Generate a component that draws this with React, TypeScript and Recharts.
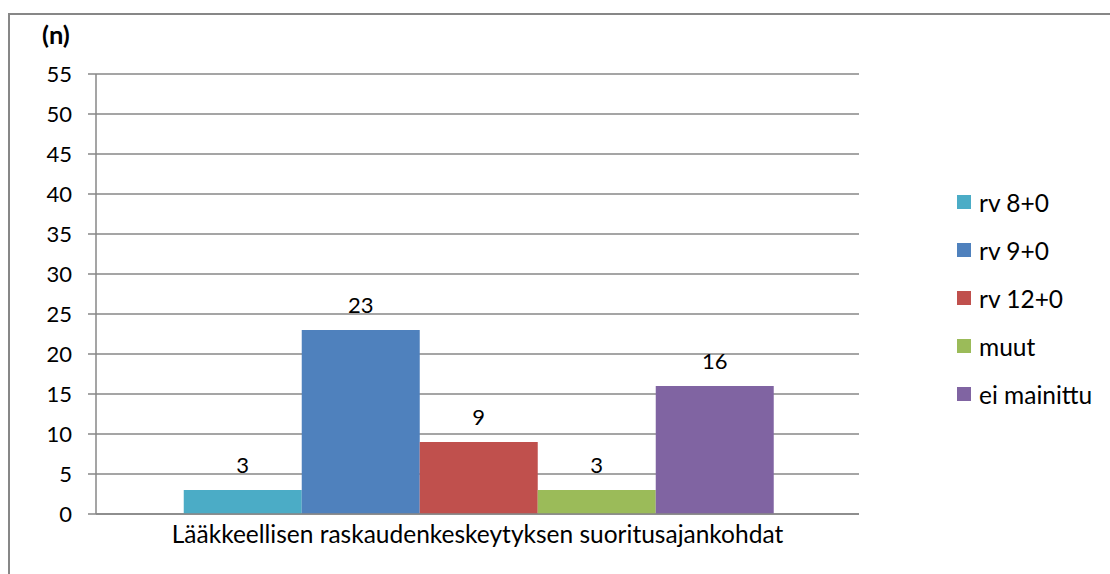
import React from 'react';
import { BarChart, Bar, XAxis, YAxis, CartesianGrid, LabelList } from 'recharts';

const category = ['Lääkkeellisen raskaudenkeskeytyksen suoritusajankohdat'];
const seriesNames = ['rv 8+0', 'rv 9+0', 'rv 12+0', 'muut', 'ei mainittu'];
const seriesValues = [3, 23, 9, 3, 16];
const seriesColors = ['#4BACC6', '#4F81BD', '#C0504D', '#9BBB59', '#8064A2'];
const yTicks = [0, 5, 10, 15, 20, 25, 30, 35, 40, 45, 50, 55];

const data = category.map((name) => {
  const row: Record<string, string | number> = { name };
  seriesNames.forEach((s, i) => {
    row[`s${i}`] = seriesValues[i];
  });
  return row;
});

const FONT = 'Lato, "Open Sans", sans-serif';
const NUM_FS = 22;
const TXT_FS = 24.5;
const GRID = '#878787';

export default function App() {
  return (
    <div style={{ position: 'absolute', left: 0, top: 0, width: 1110, height: 574, background: '#fff', overflow: 'hidden' }}>
      <div
        style={{
          position: 'absolute', left: 8, top: 13, width: 1110, height: 600,
          borderTop: `2px solid ${GRID}`, borderLeft: `2px solid ${GRID}`, boxSizing: 'border-box'
        }}
      />
      <div style={{ position: 'absolute', left: 42, top: 19, fontFamily: FONT, fontSize: 25.5, fontWeight: 'bold', lineHeight: '30px' }}>(n)</div>
      <BarChart
        width={1110}
        height={574}
        data={data}
        margin={{ top: 74, right: 251, left: 0, bottom: 30 }}
        barCategoryGap="11.5%"
        barGap={0}
        style={{ position: 'absolute', left: 0, top: 0 }}
      >
        <CartesianGrid vertical={false} stroke={GRID} strokeWidth={1.5} />
        <XAxis
          dataKey="name"
          height={30}
          stroke={GRID}
          strokeWidth={1.5}
          tickLine={false}
          tickMargin={6}
          tick={{ fill: '#000', fontFamily: FONT, fontSize: TXT_FS }}
        />
        <YAxis
          width={96}
          domain={[0, 55]}
          ticks={yTicks}
          interval={0}
          stroke={GRID}
          strokeWidth={1.5}
          tickSize={8}
          tickMargin={16}
          tick={{ fill: '#000', fontFamily: FONT, fontSize: NUM_FS }}
        />
        {seriesNames.map((s, i) => (
          <Bar key={s} dataKey={`s${i}`} name={s} fill={seriesColors[i]} isAnimationActive={false}>
            <LabelList
              dataKey={`s${i}`}
              position="top"
              offset={17}
              style={{ fill: '#000', fontFamily: FONT, fontSize: NUM_FS }}
            />
          </Bar>
        ))}
      </BarChart>
      <div style={{ position: 'absolute', left: 957, top: 178, fontFamily: FONT, fontSize: TXT_FS, color: '#000' }}>
        {seriesNames.map((s, i) => (
          <div key={s} style={{ display: 'flex', alignItems: 'center', height: 48 }}>
            <span style={{ width: 14, height: 14, background: seriesColors[i], marginRight: 8, display: 'inline-block' }} />
            <span>{s}</span>
          </div>
        ))}
      </div>
    </div>
  );
}
